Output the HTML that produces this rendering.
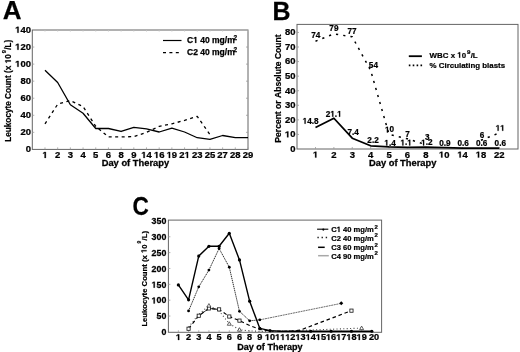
<!DOCTYPE html>
<html><head><meta charset="utf-8"><style>
html,body{margin:0;padding:0;background:#fff;width:520px;height:352px;overflow:hidden}
#w{will-change:transform;width:520px;height:352px}
svg{display:block;font-family:"Liberation Sans", sans-serif;font-weight:bold;font-kerning:none}
.h{fill-opacity:0;stroke-opacity:0}
</style></head><body><div id="w">
<svg width="520" height="352" viewBox="0 0 520 352">
<defs><path id="one" d="M478,0L478,1170L140,959L140,1180L493,1409L759,1409L759,0Z" fill="#000"/></defs>
<rect width="520" height="352" fill="#fff"/>
<rect x="32.3" y="30.0" width="215.7" height="119.4" fill="none" stroke="#656565" stroke-width="1"/>
<g transform="translate(2.80,19.00)" stroke="#000" stroke-width="0.25"><text x="0.00" y="0.00" font-size="26" xml:space="preserve">A</text></g>
<g transform="translate(30.90,152.10) scale(1.1,1)" stroke="#000" stroke-width="0.25"><text x="-4.78" y="0.00" font-size="8.6" xml:space="preserve">0</text></g>
<g transform="translate(30.90,135.04) scale(1.1,1)" stroke="#000" stroke-width="0.25"><text x="-9.57 -4.78" y="0.00" font-size="8.6" xml:space="preserve">20</text></g>
<g transform="translate(30.90,117.99) scale(1.1,1)" stroke="#000" stroke-width="0.25"><text x="-9.57 -4.78" y="0.00" font-size="8.6" xml:space="preserve">40</text></g>
<g transform="translate(30.90,100.93) scale(1.1,1)" stroke="#000" stroke-width="0.25"><text x="-9.57 -4.78" y="0.00" font-size="8.6" xml:space="preserve">60</text></g>
<g transform="translate(30.90,83.87) scale(1.1,1)" stroke="#000" stroke-width="0.25"><text x="-9.57 -4.78" y="0.00" font-size="8.6" xml:space="preserve">80</text></g>
<g transform="translate(30.90,66.81) scale(1.1,1)" stroke="#000" stroke-width="0.25"><use href="#one" transform="translate(-14.35,0.00) scale(0.00420,-0.00420)" stroke-width="59.5"/><text x="-14.35 -9.57 -4.78" y="0.00" font-size="8.6" xml:space="preserve"><tspan class="h">1</tspan>00</text></g>
<g transform="translate(30.90,49.76) scale(1.1,1)" stroke="#000" stroke-width="0.25"><use href="#one" transform="translate(-14.35,0.00) scale(0.00420,-0.00420)" stroke-width="59.5"/><text x="-14.35 -9.57 -4.78" y="0.00" font-size="8.6" xml:space="preserve"><tspan class="h">1</tspan>20</text></g>
<g transform="translate(30.90,32.70) scale(1.1,1)" stroke="#000" stroke-width="0.25"><use href="#one" transform="translate(-14.35,0.00) scale(0.00420,-0.00420)" stroke-width="59.5"/><text x="-14.35 -9.57 -4.78" y="0.00" font-size="8.6" xml:space="preserve"><tspan class="h">1</tspan>40</text></g>
<g transform="translate(44.99,157.90) scale(1.1,1)" stroke="#000" stroke-width="0.25"><use href="#one" transform="translate(-2.39,0.00) scale(0.00420,-0.00420)" stroke-width="59.5"/><text x="-2.39" y="0.00" font-size="8.6" xml:space="preserve"><tspan class="h">1</tspan></text></g>
<line x1="44.99" y1="149.40" x2="44.99" y2="147.40" stroke="#9a9a9a" stroke-width="0.8"/>
<line x1="44.99" y1="30.00" x2="44.99" y2="31.60" stroke="#c4c4c4" stroke-width="0.8"/>
<g transform="translate(57.68,157.90) scale(1.1,1)" stroke="#000" stroke-width="0.25"><text x="-2.39" y="0.00" font-size="8.6" xml:space="preserve">2</text></g>
<line x1="57.68" y1="149.40" x2="57.68" y2="147.40" stroke="#9a9a9a" stroke-width="0.8"/>
<line x1="57.68" y1="30.00" x2="57.68" y2="31.60" stroke="#c4c4c4" stroke-width="0.8"/>
<g transform="translate(70.36,157.90) scale(1.1,1)" stroke="#000" stroke-width="0.25"><text x="-2.39" y="0.00" font-size="8.6" xml:space="preserve">3</text></g>
<line x1="70.36" y1="149.40" x2="70.36" y2="147.40" stroke="#9a9a9a" stroke-width="0.8"/>
<line x1="70.36" y1="30.00" x2="70.36" y2="31.60" stroke="#c4c4c4" stroke-width="0.8"/>
<g transform="translate(83.05,157.90) scale(1.1,1)" stroke="#000" stroke-width="0.25"><text x="-2.39" y="0.00" font-size="8.6" xml:space="preserve">4</text></g>
<line x1="83.05" y1="149.40" x2="83.05" y2="147.40" stroke="#9a9a9a" stroke-width="0.8"/>
<line x1="83.05" y1="30.00" x2="83.05" y2="31.60" stroke="#c4c4c4" stroke-width="0.8"/>
<g transform="translate(95.74,157.90) scale(1.1,1)" stroke="#000" stroke-width="0.25"><text x="-2.39" y="0.00" font-size="8.6" xml:space="preserve">5</text></g>
<line x1="95.74" y1="149.40" x2="95.74" y2="147.40" stroke="#9a9a9a" stroke-width="0.8"/>
<line x1="95.74" y1="30.00" x2="95.74" y2="31.60" stroke="#c4c4c4" stroke-width="0.8"/>
<g transform="translate(108.43,157.90) scale(1.1,1)" stroke="#000" stroke-width="0.25"><text x="-2.39" y="0.00" font-size="8.6" xml:space="preserve">6</text></g>
<line x1="108.43" y1="149.40" x2="108.43" y2="147.40" stroke="#9a9a9a" stroke-width="0.8"/>
<line x1="108.43" y1="30.00" x2="108.43" y2="31.60" stroke="#c4c4c4" stroke-width="0.8"/>
<g transform="translate(121.12,157.90) scale(1.1,1)" stroke="#000" stroke-width="0.25"><text x="-2.39" y="0.00" font-size="8.6" xml:space="preserve">8</text></g>
<line x1="121.12" y1="149.40" x2="121.12" y2="147.40" stroke="#9a9a9a" stroke-width="0.8"/>
<line x1="121.12" y1="30.00" x2="121.12" y2="31.60" stroke="#c4c4c4" stroke-width="0.8"/>
<g transform="translate(133.81,157.90) scale(1.1,1)" stroke="#000" stroke-width="0.25"><text x="-2.39" y="0.00" font-size="8.6" xml:space="preserve">9</text></g>
<line x1="133.81" y1="149.40" x2="133.81" y2="147.40" stroke="#9a9a9a" stroke-width="0.8"/>
<line x1="133.81" y1="30.00" x2="133.81" y2="31.60" stroke="#c4c4c4" stroke-width="0.8"/>
<g transform="translate(146.49,157.90) scale(1.1,1)" stroke="#000" stroke-width="0.25"><use href="#one" transform="translate(-4.78,0.00) scale(0.00420,-0.00420)" stroke-width="59.5"/><text x="-4.78 0.00" y="0.00" font-size="8.6" xml:space="preserve"><tspan class="h">1</tspan>4</text></g>
<line x1="146.49" y1="149.40" x2="146.49" y2="147.40" stroke="#9a9a9a" stroke-width="0.8"/>
<line x1="146.49" y1="30.00" x2="146.49" y2="31.60" stroke="#c4c4c4" stroke-width="0.8"/>
<g transform="translate(159.18,157.90) scale(1.1,1)" stroke="#000" stroke-width="0.25"><use href="#one" transform="translate(-4.78,0.00) scale(0.00420,-0.00420)" stroke-width="59.5"/><text x="-4.78 0.00" y="0.00" font-size="8.6" xml:space="preserve"><tspan class="h">1</tspan>6</text></g>
<line x1="159.18" y1="149.40" x2="159.18" y2="147.40" stroke="#9a9a9a" stroke-width="0.8"/>
<line x1="159.18" y1="30.00" x2="159.18" y2="31.60" stroke="#c4c4c4" stroke-width="0.8"/>
<g transform="translate(171.87,157.90) scale(1.1,1)" stroke="#000" stroke-width="0.25"><use href="#one" transform="translate(-4.78,0.00) scale(0.00420,-0.00420)" stroke-width="59.5"/><text x="-4.78 0.00" y="0.00" font-size="8.6" xml:space="preserve"><tspan class="h">1</tspan>9</text></g>
<line x1="171.87" y1="149.40" x2="171.87" y2="147.40" stroke="#9a9a9a" stroke-width="0.8"/>
<line x1="171.87" y1="30.00" x2="171.87" y2="31.60" stroke="#c4c4c4" stroke-width="0.8"/>
<g transform="translate(184.56,157.90) scale(1.1,1)" stroke="#000" stroke-width="0.25"><use href="#one" transform="translate(0.00,0.00) scale(0.00420,-0.00420)" stroke-width="59.5"/><text x="-4.78 0.00" y="0.00" font-size="8.6" xml:space="preserve">2<tspan class="h">1</tspan></text></g>
<line x1="184.56" y1="149.40" x2="184.56" y2="147.40" stroke="#9a9a9a" stroke-width="0.8"/>
<line x1="184.56" y1="30.00" x2="184.56" y2="31.60" stroke="#c4c4c4" stroke-width="0.8"/>
<g transform="translate(197.25,157.90) scale(1.1,1)" stroke="#000" stroke-width="0.25"><text x="-4.78 0.00" y="0.00" font-size="8.6" xml:space="preserve">23</text></g>
<line x1="197.25" y1="149.40" x2="197.25" y2="147.40" stroke="#9a9a9a" stroke-width="0.8"/>
<line x1="197.25" y1="30.00" x2="197.25" y2="31.60" stroke="#c4c4c4" stroke-width="0.8"/>
<g transform="translate(209.94,157.90) scale(1.1,1)" stroke="#000" stroke-width="0.25"><text x="-4.78 0.00" y="0.00" font-size="8.6" xml:space="preserve">25</text></g>
<line x1="209.94" y1="149.40" x2="209.94" y2="147.40" stroke="#9a9a9a" stroke-width="0.8"/>
<line x1="209.94" y1="30.00" x2="209.94" y2="31.60" stroke="#c4c4c4" stroke-width="0.8"/>
<g transform="translate(222.62,157.90) scale(1.1,1)" stroke="#000" stroke-width="0.25"><text x="-4.78 0.00" y="0.00" font-size="8.6" xml:space="preserve">27</text></g>
<line x1="222.62" y1="149.40" x2="222.62" y2="147.40" stroke="#9a9a9a" stroke-width="0.8"/>
<line x1="222.62" y1="30.00" x2="222.62" y2="31.60" stroke="#c4c4c4" stroke-width="0.8"/>
<g transform="translate(235.31,157.90) scale(1.1,1)" stroke="#000" stroke-width="0.25"><text x="-4.78 0.00" y="0.00" font-size="8.6" xml:space="preserve">28</text></g>
<line x1="235.31" y1="149.40" x2="235.31" y2="147.40" stroke="#9a9a9a" stroke-width="0.8"/>
<line x1="235.31" y1="30.00" x2="235.31" y2="31.60" stroke="#c4c4c4" stroke-width="0.8"/>
<g transform="translate(248.00,157.90) scale(1.1,1)" stroke="#000" stroke-width="0.25"><text x="-4.78 0.00" y="0.00" font-size="8.6" xml:space="preserve">29</text></g>
<line x1="248.00" y1="149.40" x2="248.00" y2="147.40" stroke="#9a9a9a" stroke-width="0.8"/>
<line x1="248.00" y1="30.00" x2="248.00" y2="31.60" stroke="#c4c4c4" stroke-width="0.8"/>
<line x1="32.30" y1="132.34" x2="34.30" y2="132.34" stroke="#9a9a9a" stroke-width="0.8"/>
<line x1="248.00" y1="132.34" x2="246.00" y2="132.34" stroke="#9a9a9a" stroke-width="0.8"/>
<line x1="32.30" y1="115.29" x2="34.30" y2="115.29" stroke="#9a9a9a" stroke-width="0.8"/>
<line x1="248.00" y1="115.29" x2="246.00" y2="115.29" stroke="#9a9a9a" stroke-width="0.8"/>
<line x1="32.30" y1="98.23" x2="34.30" y2="98.23" stroke="#9a9a9a" stroke-width="0.8"/>
<line x1="248.00" y1="98.23" x2="246.00" y2="98.23" stroke="#9a9a9a" stroke-width="0.8"/>
<line x1="32.30" y1="81.17" x2="34.30" y2="81.17" stroke="#9a9a9a" stroke-width="0.8"/>
<line x1="248.00" y1="81.17" x2="246.00" y2="81.17" stroke="#9a9a9a" stroke-width="0.8"/>
<line x1="32.30" y1="64.11" x2="34.30" y2="64.11" stroke="#9a9a9a" stroke-width="0.8"/>
<line x1="248.00" y1="64.11" x2="246.00" y2="64.11" stroke="#9a9a9a" stroke-width="0.8"/>
<line x1="32.30" y1="47.06" x2="34.30" y2="47.06" stroke="#9a9a9a" stroke-width="0.8"/>
<line x1="248.00" y1="47.06" x2="246.00" y2="47.06" stroke="#9a9a9a" stroke-width="0.8"/>
<g transform="translate(135.40,166.40) scale(1.14,1)" stroke="#000" stroke-width="0.25"><text x="-29.62 -23.70 -19.14 -14.58 -12.30 -7.29 -4.56 -2.28 2.73 7.74 12.30 15.49 20.05 25.06" y="0.00" font-size="8.2" xml:space="preserve">Day of Therapy</text></g>
<g transform="translate(10.90,90.80) rotate(-90)" stroke="#000" stroke-width="0.2"><use href="#one" transform="translate(27.40,0.00) scale(0.00400,-0.00400)" stroke-width="50.0"/><text x="-50.96 -45.96 -41.40 -36.39 -31.83 -26.82 -22.26 -17.70 -14.97 -10.40 -8.13 -2.20 2.80 7.81 12.82 15.55 17.83 20.56 25.12 27.40 31.96" y="0.00" font-size="8.2" xml:space="preserve">Leukocyte Count (x <tspan class="h">1</tspan>0</text><text x="37.52" y="-5.00" font-size="5.8" xml:space="preserve">9</text><text x="40.95 43.22 48.23" y="0.00" font-size="8.2" xml:space="preserve">/L)</text></g>
<path d="M44.99,70.25 L57.68,82.54 L70.36,104.80 L83.05,113.24 L95.74,128.50 L108.43,128.50 L121.12,131.49 L133.81,127.40 L146.49,128.93 L159.18,132.00 L171.87,128.08 L184.56,132.00 L197.25,137.72 L209.94,139.42 L222.62,135.50 L235.31,137.72 L248.00,137.72" fill="none" stroke="#000" stroke-width="1.3" stroke-linejoin="round" stroke-linecap="butt" />
<path d="M44.99,123.90 L57.68,104.20 L70.36,100.53 L83.05,106.50 L95.74,126.37 L108.43,136.95 L121.12,136.95 L133.81,136.61 L146.49,132.34 L159.18,126.37 L171.87,123.81 L184.56,120.40 L197.25,116.39 L209.94,134.56" fill="none" stroke="#000" stroke-width="1.3" stroke-linejoin="round" stroke-linecap="butt" stroke-dasharray="3,3.5" />
<path d="M163.00,40.50 L181.50,40.50" fill="none" stroke="#000" stroke-width="1.2" stroke-linejoin="round" stroke-linecap="butt" />
<path d="M163.00,52.60 L181.50,52.60" fill="none" stroke="#000" stroke-width="1.2" stroke-linejoin="round" stroke-linecap="butt" stroke-dasharray="3,3.4" />
<g transform="translate(187.00,42.90)" stroke="#000" stroke-width="0.25"><use href="#one" transform="translate(6.14,0.00) scale(0.00415,-0.00415)" stroke-width="60.2"/><text x="0.00 6.14 10.87 13.23 17.95 22.68 25.04 32.60 37.79 40.16" y="0.00" font-size="8.5" xml:space="preserve">C<tspan class="h">1</tspan> 40 mg/m</text><text x="46.41" y="-3.30" font-size="6.5" xml:space="preserve">2</text></g>
<g transform="translate(187.00,54.90)" stroke="#000" stroke-width="0.25"><text x="0.00 6.14 10.87 13.23 17.95 22.68 25.04 32.60 37.79 40.16" y="0.00" font-size="8.5" xml:space="preserve">C2 40 mg/m</text><text x="46.41" y="-3.30" font-size="6.5" xml:space="preserve">2</text></g>
<rect x="297.0" y="24.4" width="221.0" height="124.6" fill="none" stroke="#656565" stroke-width="1"/>
<g transform="translate(272.40,19.60) scale(0.96,1)" stroke="#000" stroke-width="0.25"><text x="0.00" y="0.00" font-size="26" xml:space="preserve">B</text></g>
<g transform="translate(295.40,151.90) scale(1.1,1)" stroke="#000" stroke-width="0.25"><text x="-4.78" y="0.00" font-size="8.6" xml:space="preserve">0</text></g>
<g transform="translate(295.40,137.33) scale(1.1,1)" stroke="#000" stroke-width="0.25"><use href="#one" transform="translate(-9.57,0.00) scale(0.00420,-0.00420)" stroke-width="59.5"/><text x="-9.57 -4.78" y="0.00" font-size="8.6" xml:space="preserve"><tspan class="h">1</tspan>0</text></g>
<line x1="297.00" y1="134.43" x2="299.00" y2="134.43" stroke="#9a9a9a" stroke-width="0.8"/>
<g transform="translate(295.40,122.76) scale(1.1,1)" stroke="#000" stroke-width="0.25"><text x="-9.57 -4.78" y="0.00" font-size="8.6" xml:space="preserve">20</text></g>
<line x1="297.00" y1="119.86" x2="299.00" y2="119.86" stroke="#9a9a9a" stroke-width="0.8"/>
<g transform="translate(295.40,108.19) scale(1.1,1)" stroke="#000" stroke-width="0.25"><text x="-9.57 -4.78" y="0.00" font-size="8.6" xml:space="preserve">30</text></g>
<line x1="297.00" y1="105.29" x2="299.00" y2="105.29" stroke="#9a9a9a" stroke-width="0.8"/>
<g transform="translate(295.40,93.62) scale(1.1,1)" stroke="#000" stroke-width="0.25"><text x="-9.57 -4.78" y="0.00" font-size="8.6" xml:space="preserve">40</text></g>
<line x1="297.00" y1="90.72" x2="299.00" y2="90.72" stroke="#9a9a9a" stroke-width="0.8"/>
<g transform="translate(295.40,79.05) scale(1.1,1)" stroke="#000" stroke-width="0.25"><text x="-9.57 -4.78" y="0.00" font-size="8.6" xml:space="preserve">50</text></g>
<line x1="297.00" y1="76.15" x2="299.00" y2="76.15" stroke="#9a9a9a" stroke-width="0.8"/>
<g transform="translate(295.40,64.48) scale(1.1,1)" stroke="#000" stroke-width="0.25"><text x="-9.57 -4.78" y="0.00" font-size="8.6" xml:space="preserve">60</text></g>
<line x1="297.00" y1="61.58" x2="299.00" y2="61.58" stroke="#9a9a9a" stroke-width="0.8"/>
<g transform="translate(295.40,49.91) scale(1.1,1)" stroke="#000" stroke-width="0.25"><text x="-9.57 -4.78" y="0.00" font-size="8.6" xml:space="preserve">70</text></g>
<line x1="297.00" y1="47.01" x2="299.00" y2="47.01" stroke="#9a9a9a" stroke-width="0.8"/>
<g transform="translate(295.40,35.34) scale(1.1,1)" stroke="#000" stroke-width="0.25"><text x="-9.57 -4.78" y="0.00" font-size="8.6" xml:space="preserve">80</text></g>
<line x1="297.00" y1="32.44" x2="299.00" y2="32.44" stroke="#9a9a9a" stroke-width="0.8"/>
<g transform="translate(315.50,157.60) scale(1.1,1)" stroke="#000" stroke-width="0.25"><use href="#one" transform="translate(-2.39,0.00) scale(0.00420,-0.00420)" stroke-width="59.5"/><text x="-2.39" y="0.00" font-size="8.6" xml:space="preserve"><tspan class="h">1</tspan></text></g>
<line x1="315.50" y1="149.00" x2="315.50" y2="147.00" stroke="#9a9a9a" stroke-width="0.8"/>
<g transform="translate(333.88,157.60) scale(1.1,1)" stroke="#000" stroke-width="0.25"><text x="-2.39" y="0.00" font-size="8.6" xml:space="preserve">2</text></g>
<line x1="333.88" y1="149.00" x2="333.88" y2="147.00" stroke="#9a9a9a" stroke-width="0.8"/>
<g transform="translate(352.26,157.60) scale(1.1,1)" stroke="#000" stroke-width="0.25"><text x="-2.39" y="0.00" font-size="8.6" xml:space="preserve">3</text></g>
<line x1="352.26" y1="149.00" x2="352.26" y2="147.00" stroke="#9a9a9a" stroke-width="0.8"/>
<g transform="translate(370.64,157.60) scale(1.1,1)" stroke="#000" stroke-width="0.25"><text x="-2.39" y="0.00" font-size="8.6" xml:space="preserve">4</text></g>
<line x1="370.64" y1="149.00" x2="370.64" y2="147.00" stroke="#9a9a9a" stroke-width="0.8"/>
<g transform="translate(389.02,157.60) scale(1.1,1)" stroke="#000" stroke-width="0.25"><text x="-2.39" y="0.00" font-size="8.6" xml:space="preserve">5</text></g>
<line x1="389.02" y1="149.00" x2="389.02" y2="147.00" stroke="#9a9a9a" stroke-width="0.8"/>
<g transform="translate(407.40,157.60) scale(1.1,1)" stroke="#000" stroke-width="0.25"><text x="-2.39" y="0.00" font-size="8.6" xml:space="preserve">6</text></g>
<line x1="407.40" y1="149.00" x2="407.40" y2="147.00" stroke="#9a9a9a" stroke-width="0.8"/>
<g transform="translate(425.78,157.60) scale(1.1,1)" stroke="#000" stroke-width="0.25"><text x="-2.39" y="0.00" font-size="8.6" xml:space="preserve">8</text></g>
<line x1="425.78" y1="149.00" x2="425.78" y2="147.00" stroke="#9a9a9a" stroke-width="0.8"/>
<g transform="translate(444.16,157.60) scale(1.1,1)" stroke="#000" stroke-width="0.25"><use href="#one" transform="translate(-4.78,0.00) scale(0.00420,-0.00420)" stroke-width="59.5"/><text x="-4.78 0.00" y="0.00" font-size="8.6" xml:space="preserve"><tspan class="h">1</tspan>0</text></g>
<line x1="444.16" y1="149.00" x2="444.16" y2="147.00" stroke="#9a9a9a" stroke-width="0.8"/>
<g transform="translate(462.54,157.60) scale(1.1,1)" stroke="#000" stroke-width="0.25"><use href="#one" transform="translate(-4.78,0.00) scale(0.00420,-0.00420)" stroke-width="59.5"/><text x="-4.78 0.00" y="0.00" font-size="8.6" xml:space="preserve"><tspan class="h">1</tspan>4</text></g>
<line x1="462.54" y1="149.00" x2="462.54" y2="147.00" stroke="#9a9a9a" stroke-width="0.8"/>
<g transform="translate(480.92,157.60) scale(1.1,1)" stroke="#000" stroke-width="0.25"><use href="#one" transform="translate(-4.78,0.00) scale(0.00420,-0.00420)" stroke-width="59.5"/><text x="-4.78 0.00" y="0.00" font-size="8.6" xml:space="preserve"><tspan class="h">1</tspan>8</text></g>
<line x1="480.92" y1="149.00" x2="480.92" y2="147.00" stroke="#9a9a9a" stroke-width="0.8"/>
<g transform="translate(499.30,157.60) scale(1.1,1)" stroke="#000" stroke-width="0.25"><text x="-4.78 0.00" y="0.00" font-size="8.6" xml:space="preserve">22</text></g>
<line x1="499.30" y1="149.00" x2="499.30" y2="147.00" stroke="#9a9a9a" stroke-width="0.8"/>
<g transform="translate(402.70,166.40) scale(1.14,1)" stroke="#000" stroke-width="0.25"><text x="-29.62 -23.70 -19.14 -14.58 -12.30 -7.29 -4.56 -2.28 2.73 7.74 12.30 15.49 20.05 25.06" y="0.00" font-size="8.2" xml:space="preserve">Day of Therapy</text></g>
<g transform="translate(280.60,88.50) rotate(-90)" stroke="#000" stroke-width="0.2"><text x="-54.15 -48.45 -43.70 -40.37 -35.61 -30.86 -25.64 -22.79 -20.41 -15.19 -11.86 -9.49 -3.31 1.91 6.67 11.89 14.26 19.49 22.33 27.09 29.46 35.64 40.86 46.08 51.31" y="0.00" font-size="8.55" xml:space="preserve">Percent or Absolute Count</text></g>
<path d="M315.50,127.44 L333.88,118.26 L352.26,138.22 L370.64,145.79 L389.02,146.96 L407.40,147.40 L425.78,147.25 L444.16,147.69 L462.54,148.13 L480.92,148.13 L499.30,148.13" fill="none" stroke="#000" stroke-width="1.8" stroke-linejoin="round" stroke-linecap="butt" />
<path d="M315.50,41.18 L333.88,33.90 L352.26,36.81 L370.64,70.32 L389.02,134.43 L407.40,138.80 L425.78,144.63" fill="none" stroke="#000" stroke-width="1.5" stroke-linejoin="round" stroke-linecap="butt" stroke-dasharray="2.2,5.1" />
<path d="M480.92,140.26 L499.30,132.97" fill="none" stroke="#000" stroke-width="1.5" stroke-linejoin="round" stroke-linecap="butt" stroke-dasharray="2.2,5.1" />
<g transform="translate(310.60,123.70)" stroke="#000" stroke-width="0.22"><use href="#one" transform="translate(-7.98,0.00) scale(0.00400,-0.00400)" stroke-width="54.9"/><text x="-7.98 -3.42 1.14 3.42" y="0.00" font-size="8.2" xml:space="preserve"><tspan class="h">1</tspan>4.8</text></g>
<g transform="translate(333.70,116.70)" stroke="#000" stroke-width="0.22"><use href="#one" transform="translate(-3.42,0.00) scale(0.00400,-0.00400)" stroke-width="54.9"/><use href="#one" transform="translate(3.42,0.00) scale(0.00400,-0.00400)" stroke-width="54.9"/><text x="-7.98 -3.42 1.14 3.42" y="0.00" font-size="8.2" xml:space="preserve">2<tspan class="h">1</tspan>.<tspan class="h">1</tspan></text></g>
<g transform="translate(353.20,135.20)" stroke="#000" stroke-width="0.22"><text x="-5.70 -1.14 1.14" y="0.00" font-size="8.2" xml:space="preserve">7.4</text></g>
<g transform="translate(373.00,143.40)" stroke="#000" stroke-width="0.22"><text x="-5.70 -1.14 1.14" y="0.00" font-size="8.2" xml:space="preserve">2.2</text></g>
<g transform="translate(390.00,145.60)" stroke="#000" stroke-width="0.22"><use href="#one" transform="translate(-5.70,0.00) scale(0.00400,-0.00400)" stroke-width="54.9"/><text x="-5.70 -1.14 1.14" y="0.00" font-size="8.2" xml:space="preserve"><tspan class="h">1</tspan>.4</text></g>
<g transform="translate(406.10,145.40)" stroke="#000" stroke-width="0.22"><use href="#one" transform="translate(-5.70,0.00) scale(0.00400,-0.00400)" stroke-width="54.9"/><use href="#one" transform="translate(1.14,0.00) scale(0.00400,-0.00400)" stroke-width="54.9"/><text x="-5.70 -1.14 1.14" y="0.00" font-size="8.2" xml:space="preserve"><tspan class="h">1</tspan>.<tspan class="h">1</tspan></text></g>
<g transform="translate(426.80,145.40)" stroke="#000" stroke-width="0.22"><use href="#one" transform="translate(-5.70,0.00) scale(0.00400,-0.00400)" stroke-width="54.9"/><text x="-5.70 -1.14 1.14" y="0.00" font-size="8.2" xml:space="preserve"><tspan class="h">1</tspan>.2</text></g>
<g transform="translate(444.90,146.00)" stroke="#000" stroke-width="0.22"><text x="-5.70 -1.14 1.14" y="0.00" font-size="8.2" xml:space="preserve">0.9</text></g>
<g transform="translate(463.10,146.00)" stroke="#000" stroke-width="0.22"><text x="-5.70 -1.14 1.14" y="0.00" font-size="8.2" xml:space="preserve">0.6</text></g>
<g transform="translate(481.70,146.00)" stroke="#000" stroke-width="0.22"><text x="-5.70 -1.14 1.14" y="0.00" font-size="8.2" xml:space="preserve">0.6</text></g>
<g transform="translate(500.30,146.00)" stroke="#000" stroke-width="0.22"><text x="-5.70 -1.14 1.14" y="0.00" font-size="8.2" xml:space="preserve">0.6</text></g>
<g transform="translate(315.70,37.80)" stroke="#000" stroke-width="0.22"><text x="-4.56 0.00" y="0.00" font-size="8.2" xml:space="preserve">74</text></g>
<g transform="translate(333.90,31.40)" stroke="#000" stroke-width="0.22"><text x="-4.56 0.00" y="0.00" font-size="8.2" xml:space="preserve">79</text></g>
<g transform="translate(352.00,34.10)" stroke="#000" stroke-width="0.22"><text x="-4.56 0.00" y="0.00" font-size="8.2" xml:space="preserve">77</text></g>
<g transform="translate(373.40,67.50)" stroke="#000" stroke-width="0.22"><text x="-4.56 0.00" y="0.00" font-size="8.2" xml:space="preserve">54</text></g>
<g transform="translate(389.50,132.40)" stroke="#000" stroke-width="0.22"><use href="#one" transform="translate(-4.56,0.00) scale(0.00400,-0.00400)" stroke-width="54.9"/><text x="-4.56 0.00" y="0.00" font-size="8.2" xml:space="preserve"><tspan class="h">1</tspan>0</text></g>
<g transform="translate(407.50,136.50)" stroke="#000" stroke-width="0.22"><text x="-2.28" y="0.00" font-size="8.2" xml:space="preserve">7</text></g>
<g transform="translate(427.30,140.40)" stroke="#000" stroke-width="0.22"><text x="-2.28" y="0.00" font-size="8.2" xml:space="preserve">3</text></g>
<g transform="translate(482.00,137.90)" stroke="#000" stroke-width="0.22"><text x="-2.28" y="0.00" font-size="8.2" xml:space="preserve">6</text></g>
<g transform="translate(500.20,130.80)" stroke="#000" stroke-width="0.22"><use href="#one" transform="translate(-4.56,0.00) scale(0.00400,-0.00400)" stroke-width="54.9"/><use href="#one" transform="translate(0.00,0.00) scale(0.00400,-0.00400)" stroke-width="54.9"/><text x="-4.56 0.00" y="0.00" font-size="8.2" xml:space="preserve"><tspan class="h">1</tspan><tspan class="h">1</tspan></text></g>
<path d="M408.80,56.20 L421.90,56.20" fill="none" stroke="#000" stroke-width="1.8" stroke-linejoin="round" stroke-linecap="butt" />
<path d="M408.80,65.40 L422.40,65.40" fill="none" stroke="#000" stroke-width="1.6" stroke-linejoin="round" stroke-linecap="butt" stroke-dasharray="1.6,2.3" />
<g transform="translate(429.60,57.70)" stroke="#000" stroke-width="0.2"><use href="#one" transform="translate(27.65,0.00) scale(0.00386,-0.00386)" stroke-width="51.8"/><text x="0.00 7.46 13.16 18.87 21.06 25.46 27.65 32.04" y="0.00" font-size="7.9" xml:space="preserve">WBC x <tspan class="h">1</tspan>0</text><text x="37.34" y="-3.30" font-size="6.2" xml:space="preserve">9</text><text x="41.09 43.28" y="0.00" font-size="7.9" xml:space="preserve">/L</text></g>
<g transform="translate(429.60,67.60)" stroke="#000" stroke-width="0.2"><text x="0.00 7.02 9.22 14.92 17.12 20.19 24.59 29.41 31.61 36.00 38.63 40.83 45.65 50.48 52.67 57.50 59.69 64.09 68.48 71.11" y="0.00" font-size="7.9" xml:space="preserve">% Circulating blasts</text></g>
<rect x="168.4" y="220.1" width="213.20000000000002" height="112.20000000000002" fill="none" stroke="#656565" stroke-width="1"/>
<g transform="translate(132.60,214.60) scale(0.87,1)" stroke="#000" stroke-width="0.25"><text x="0.00" y="0.00" font-size="26" xml:space="preserve">C</text></g>
<g transform="translate(166.30,335.20) scale(1.03,1)" stroke="#000" stroke-width="0.25"><text x="-4.78" y="0.00" font-size="8.6" xml:space="preserve">0</text></g>
<g transform="translate(166.30,319.34) scale(1.03,1)" stroke="#000" stroke-width="0.25"><text x="-9.57 -4.78" y="0.00" font-size="8.6" xml:space="preserve">50</text></g>
<line x1="168.40" y1="316.04" x2="170.40" y2="316.04" stroke="#9a9a9a" stroke-width="0.8"/>
<g transform="translate(166.30,303.49) scale(1.03,1)" stroke="#000" stroke-width="0.25"><use href="#one" transform="translate(-14.35,0.00) scale(0.00420,-0.00420)" stroke-width="59.5"/><text x="-14.35 -9.57 -4.78" y="0.00" font-size="8.6" xml:space="preserve"><tspan class="h">1</tspan>00</text></g>
<line x1="168.40" y1="300.19" x2="170.40" y2="300.19" stroke="#9a9a9a" stroke-width="0.8"/>
<g transform="translate(166.30,287.63) scale(1.03,1)" stroke="#000" stroke-width="0.25"><use href="#one" transform="translate(-14.35,0.00) scale(0.00420,-0.00420)" stroke-width="59.5"/><text x="-14.35 -9.57 -4.78" y="0.00" font-size="8.6" xml:space="preserve"><tspan class="h">1</tspan>50</text></g>
<line x1="168.40" y1="284.33" x2="170.40" y2="284.33" stroke="#9a9a9a" stroke-width="0.8"/>
<g transform="translate(166.30,271.78) scale(1.03,1)" stroke="#000" stroke-width="0.25"><text x="-14.35 -9.57 -4.78" y="0.00" font-size="8.6" xml:space="preserve">200</text></g>
<line x1="168.40" y1="268.48" x2="170.40" y2="268.48" stroke="#9a9a9a" stroke-width="0.8"/>
<g transform="translate(166.30,255.93) scale(1.03,1)" stroke="#000" stroke-width="0.25"><text x="-14.35 -9.57 -4.78" y="0.00" font-size="8.6" xml:space="preserve">250</text></g>
<line x1="168.40" y1="252.62" x2="170.40" y2="252.62" stroke="#9a9a9a" stroke-width="0.8"/>
<g transform="translate(166.30,240.07) scale(1.03,1)" stroke="#000" stroke-width="0.25"><text x="-14.35 -9.57 -4.78" y="0.00" font-size="8.6" xml:space="preserve">300</text></g>
<line x1="168.40" y1="236.77" x2="170.40" y2="236.77" stroke="#9a9a9a" stroke-width="0.8"/>
<g transform="translate(166.30,224.21) scale(1.03,1)" stroke="#000" stroke-width="0.25"><text x="-14.35 -9.57 -4.78" y="0.00" font-size="8.6" xml:space="preserve">350</text></g>
<g transform="translate(178.38,340.00) scale(1.12,1)" stroke="#000" stroke-width="0.25"><use href="#one" transform="translate(-2.28,0.00) scale(0.00400,-0.00400)" stroke-width="62.4"/><text x="-2.28" y="0.00" font-size="8.2" xml:space="preserve"><tspan class="h">1</tspan></text></g>
<line x1="178.38" y1="332.30" x2="178.38" y2="330.30" stroke="#9a9a9a" stroke-width="0.8"/>
<g transform="translate(188.56,340.00) scale(1.12,1)" stroke="#000" stroke-width="0.25"><text x="-2.28" y="0.00" font-size="8.2" xml:space="preserve">2</text></g>
<line x1="188.56" y1="332.30" x2="188.56" y2="330.30" stroke="#9a9a9a" stroke-width="0.8"/>
<g transform="translate(198.74,340.00) scale(1.12,1)" stroke="#000" stroke-width="0.25"><text x="-2.28" y="0.00" font-size="8.2" xml:space="preserve">3</text></g>
<line x1="198.74" y1="332.30" x2="198.74" y2="330.30" stroke="#9a9a9a" stroke-width="0.8"/>
<g transform="translate(208.92,340.00) scale(1.12,1)" stroke="#000" stroke-width="0.25"><text x="-2.28" y="0.00" font-size="8.2" xml:space="preserve">4</text></g>
<line x1="208.92" y1="332.30" x2="208.92" y2="330.30" stroke="#9a9a9a" stroke-width="0.8"/>
<g transform="translate(219.10,340.00) scale(1.12,1)" stroke="#000" stroke-width="0.25"><text x="-2.28" y="0.00" font-size="8.2" xml:space="preserve">5</text></g>
<line x1="219.10" y1="332.30" x2="219.10" y2="330.30" stroke="#9a9a9a" stroke-width="0.8"/>
<g transform="translate(229.29,340.00) scale(1.12,1)" stroke="#000" stroke-width="0.25"><text x="-2.28" y="0.00" font-size="8.2" xml:space="preserve">6</text></g>
<line x1="229.29" y1="332.30" x2="229.29" y2="330.30" stroke="#9a9a9a" stroke-width="0.8"/>
<g transform="translate(239.47,340.00) scale(1.12,1)" stroke="#000" stroke-width="0.25"><text x="-2.28" y="0.00" font-size="8.2" xml:space="preserve">6</text></g>
<line x1="239.47" y1="332.30" x2="239.47" y2="330.30" stroke="#9a9a9a" stroke-width="0.8"/>
<g transform="translate(249.65,340.00) scale(1.12,1)" stroke="#000" stroke-width="0.25"><text x="-2.28" y="0.00" font-size="8.2" xml:space="preserve">8</text></g>
<line x1="249.65" y1="332.30" x2="249.65" y2="330.30" stroke="#9a9a9a" stroke-width="0.8"/>
<g transform="translate(259.83,340.00) scale(1.12,1)" stroke="#000" stroke-width="0.25"><text x="-2.28" y="0.00" font-size="8.2" xml:space="preserve">9</text></g>
<line x1="259.83" y1="332.30" x2="259.83" y2="330.30" stroke="#9a9a9a" stroke-width="0.8"/>
<g transform="translate(270.01,340.00) scale(1.12,1)" stroke="#000" stroke-width="0.25"><use href="#one" transform="translate(-4.56,0.00) scale(0.00400,-0.00400)" stroke-width="62.4"/><text x="-4.56 0.00" y="0.00" font-size="8.2" xml:space="preserve"><tspan class="h">1</tspan>0</text></g>
<line x1="270.01" y1="332.30" x2="270.01" y2="330.30" stroke="#9a9a9a" stroke-width="0.8"/>
<g transform="translate(280.19,340.00) scale(1.12,1)" stroke="#000" stroke-width="0.25"><use href="#one" transform="translate(-4.56,0.00) scale(0.00400,-0.00400)" stroke-width="62.4"/><use href="#one" transform="translate(0.00,0.00) scale(0.00400,-0.00400)" stroke-width="62.4"/><text x="-4.56 0.00" y="0.00" font-size="8.2" xml:space="preserve"><tspan class="h">1</tspan><tspan class="h">1</tspan></text></g>
<line x1="280.19" y1="332.30" x2="280.19" y2="330.30" stroke="#9a9a9a" stroke-width="0.8"/>
<g transform="translate(290.37,340.00) scale(1.12,1)" stroke="#000" stroke-width="0.25"><use href="#one" transform="translate(-4.56,0.00) scale(0.00400,-0.00400)" stroke-width="62.4"/><text x="-4.56 0.00" y="0.00" font-size="8.2" xml:space="preserve"><tspan class="h">1</tspan>2</text></g>
<line x1="290.37" y1="332.30" x2="290.37" y2="330.30" stroke="#9a9a9a" stroke-width="0.8"/>
<g transform="translate(300.55,340.00) scale(1.12,1)" stroke="#000" stroke-width="0.25"><use href="#one" transform="translate(-4.56,0.00) scale(0.00400,-0.00400)" stroke-width="62.4"/><text x="-4.56 0.00" y="0.00" font-size="8.2" xml:space="preserve"><tspan class="h">1</tspan>3</text></g>
<line x1="300.55" y1="332.30" x2="300.55" y2="330.30" stroke="#9a9a9a" stroke-width="0.8"/>
<g transform="translate(310.73,340.00) scale(1.12,1)" stroke="#000" stroke-width="0.25"><use href="#one" transform="translate(-4.56,0.00) scale(0.00400,-0.00400)" stroke-width="62.4"/><text x="-4.56 0.00" y="0.00" font-size="8.2" xml:space="preserve"><tspan class="h">1</tspan>4</text></g>
<line x1="310.73" y1="332.30" x2="310.73" y2="330.30" stroke="#9a9a9a" stroke-width="0.8"/>
<g transform="translate(320.91,340.00) scale(1.12,1)" stroke="#000" stroke-width="0.25"><use href="#one" transform="translate(-4.56,0.00) scale(0.00400,-0.00400)" stroke-width="62.4"/><text x="-4.56 0.00" y="0.00" font-size="8.2" xml:space="preserve"><tspan class="h">1</tspan>5</text></g>
<line x1="320.91" y1="332.30" x2="320.91" y2="330.30" stroke="#9a9a9a" stroke-width="0.8"/>
<g transform="translate(331.10,340.00) scale(1.12,1)" stroke="#000" stroke-width="0.25"><use href="#one" transform="translate(-4.56,0.00) scale(0.00400,-0.00400)" stroke-width="62.4"/><text x="-4.56 0.00" y="0.00" font-size="8.2" xml:space="preserve"><tspan class="h">1</tspan>6</text></g>
<line x1="331.10" y1="332.30" x2="331.10" y2="330.30" stroke="#9a9a9a" stroke-width="0.8"/>
<g transform="translate(341.28,340.00) scale(1.12,1)" stroke="#000" stroke-width="0.25"><use href="#one" transform="translate(-4.56,0.00) scale(0.00400,-0.00400)" stroke-width="62.4"/><text x="-4.56 0.00" y="0.00" font-size="8.2" xml:space="preserve"><tspan class="h">1</tspan>7</text></g>
<line x1="341.28" y1="332.30" x2="341.28" y2="330.30" stroke="#9a9a9a" stroke-width="0.8"/>
<g transform="translate(351.46,340.00) scale(1.12,1)" stroke="#000" stroke-width="0.25"><use href="#one" transform="translate(-4.56,0.00) scale(0.00400,-0.00400)" stroke-width="62.4"/><text x="-4.56 0.00" y="0.00" font-size="8.2" xml:space="preserve"><tspan class="h">1</tspan>8</text></g>
<line x1="351.46" y1="332.30" x2="351.46" y2="330.30" stroke="#9a9a9a" stroke-width="0.8"/>
<g transform="translate(361.64,340.00) scale(1.12,1)" stroke="#000" stroke-width="0.25"><use href="#one" transform="translate(-4.56,0.00) scale(0.00400,-0.00400)" stroke-width="62.4"/><text x="-4.56 0.00" y="0.00" font-size="8.2" xml:space="preserve"><tspan class="h">1</tspan>9</text></g>
<line x1="361.64" y1="332.30" x2="361.64" y2="330.30" stroke="#9a9a9a" stroke-width="0.8"/>
<g transform="translate(374.12,340.00) scale(1.12,1)" stroke="#000" stroke-width="0.25"><text x="-4.56 0.00" y="0.00" font-size="8.2" xml:space="preserve">20</text></g>
<line x1="371.82" y1="332.30" x2="371.82" y2="330.30" stroke="#9a9a9a" stroke-width="0.8"/>
<g transform="translate(269.90,349.60) scale(1.105,1)" stroke="#000" stroke-width="0.25"><text x="-29.62 -23.70 -19.14 -14.58 -12.30 -7.29 -4.56 -2.28 2.73 7.74 12.30 15.49 20.05 25.06" y="0.00" font-size="8.2" xml:space="preserve">Day of Therapy</text></g>
<g transform="translate(146.60,278.80) rotate(-90)" stroke="#000" stroke-width="0.2"><use href="#one" transform="translate(25.77,0.00) scale(0.00376,-0.00376)" stroke-width="53.2"/><text x="-47.82 -43.12 -38.83 -34.13 -29.85 -25.14 -20.86 -16.58 -14.02 -9.73 -7.59 -2.03 2.67 7.37 12.08 14.64 16.78 19.35 23.63 25.77 30.05" y="0.00" font-size="7.7" xml:space="preserve">Leukocyte Count (x <tspan class="h">1</tspan>0</text><text x="35.33" y="-5.30" font-size="5.0" xml:space="preserve">9</text><text x="38.41 40.55 45.26" y="0.00" font-size="7.7" xml:space="preserve">/L)</text></g>
<path d="M188.56,327.14 L198.74,314.46 L208.92,305.58 L219.10,310.97 L229.29,323.75 L239.47,329.68 L249.65,330.95 L259.83,331.27 L270.01,331.58 L361.64,328.09" fill="none" stroke="#444" stroke-width="1.1" stroke-linejoin="round" stroke-linecap="butt" stroke-dasharray="1,2.4" />
<path d="M188.56,328.73 L198.74,315.73 L208.92,308.43 L219.10,309.39 L229.29,316.52 L239.47,320.61 L249.65,325.56 L259.83,329.36 L270.01,330.95 L280.19,331.27 L290.37,331.27 L300.55,330.00 L351.46,310.65" fill="none" stroke="#000" stroke-width="1.2" stroke-linejoin="round" stroke-linecap="butt" stroke-dasharray="3.6,2.8" />
<path d="M198.74,315.73 L208.92,308.43 L219.10,309.39" fill="none" stroke="#222" stroke-width="0.9" stroke-linejoin="round" stroke-linecap="butt" />
<path d="M188.56,310.97 L198.74,286.87 L208.92,270.07 L219.10,248.50 L229.29,267.21 L239.47,311.29 L249.65,320.80 L259.83,319.85" fill="none" stroke="#111" stroke-width="0.9" stroke-linejoin="round" stroke-linecap="butt" stroke-dasharray="1.3,0.7" />
<path d="M259.83,319.85 L341.28,303.36" fill="none" stroke="#555" stroke-width="0.85" stroke-linejoin="round" stroke-linecap="butt" stroke-dasharray="2,0.6" />
<path d="M178.38,284.97 L188.56,299.87 L198.74,256.11 L208.92,246.28 L219.10,246.28 L229.29,233.28 L239.47,259.92 L249.65,301.14 L259.83,328.41 L270.01,330.63 L280.19,331.27 L290.37,331.27 L300.55,331.27 L310.73,331.27 L320.91,331.27 L331.10,331.27 L341.28,331.27 L351.46,331.27 L361.64,331.27 L371.82,331.27" fill="none" stroke="#000" stroke-width="1.4" stroke-linejoin="round" stroke-linecap="butt" />
<circle cx="178.38" cy="284.97" r="1.6" fill="#000"/>
<circle cx="188.56" cy="299.87" r="1.6" fill="#000"/>
<circle cx="198.74" cy="256.11" r="1.6" fill="#000"/>
<circle cx="208.92" cy="246.28" r="1.6" fill="#000"/>
<circle cx="219.10" cy="246.28" r="1.6" fill="#000"/>
<circle cx="229.29" cy="233.28" r="1.6" fill="#000"/>
<circle cx="239.47" cy="259.92" r="1.6" fill="#000"/>
<circle cx="249.65" cy="301.14" r="1.6" fill="#000"/>
<circle cx="259.83" cy="328.41" r="1.6" fill="#000"/>
<circle cx="270.01" cy="330.63" r="1.6" fill="#000"/>
<circle cx="310.73" cy="331.27" r="1.6" fill="#000"/>
<circle cx="331.10" cy="331.27" r="1.6" fill="#000"/>
<circle cx="351.46" cy="331.27" r="1.6" fill="#000"/>
<circle cx="371.82" cy="331.27" r="1.6" fill="#000"/>
<circle cx="188.56" cy="310.97" r="1.4" fill="#000"/>
<circle cx="198.74" cy="286.87" r="1.4" fill="#000"/>
<circle cx="208.92" cy="270.07" r="1.4" fill="#000"/>
<circle cx="219.10" cy="248.50" r="1.4" fill="#000"/>
<circle cx="229.29" cy="267.21" r="1.4" fill="#000"/>
<circle cx="239.47" cy="311.29" r="1.4" fill="#000"/>
<circle cx="249.65" cy="320.80" r="1.4" fill="#000"/>
<circle cx="259.83" cy="319.85" r="1.4" fill="#000"/>
<path d="M339.28,303.36 L341.28,301.36 L343.28,303.36 L341.28,305.36Z" fill="#000"/>
<rect x="186.96" y="327.13" width="3.2" height="3.2" fill="#fff" stroke="#111" stroke-width="0.8"/>
<rect x="197.14" y="314.13" width="3.2" height="3.2" fill="#fff" stroke="#111" stroke-width="0.8"/>
<rect x="207.32" y="306.83" width="3.2" height="3.2" fill="#fff" stroke="#111" stroke-width="0.8"/>
<rect x="217.50" y="307.79" width="3.2" height="3.2" fill="#fff" stroke="#111" stroke-width="0.8"/>
<rect x="227.69" y="314.92" width="3.2" height="3.2" fill="#fff" stroke="#111" stroke-width="0.8"/>
<rect x="237.87" y="319.01" width="3.2" height="3.2" fill="#fff" stroke="#111" stroke-width="0.8"/>
<rect x="349.86" y="309.05" width="3.2" height="3.2" fill="#fff" stroke="#111" stroke-width="0.8"/>
<path d="M206.92,307.08 L208.92,303.58 L210.92,307.08Z" fill="#fff" stroke="#222" stroke-width="0.7"/>
<path d="M227.29,325.25 L229.29,321.75 L231.29,325.25Z" fill="#fff" stroke="#222" stroke-width="0.7"/>
<path d="M237.47,331.18 L239.47,327.68 L241.47,331.18Z" fill="#fff" stroke="#222" stroke-width="0.7"/>
<path d="M359.64,329.59 L361.64,326.09 L363.64,329.59Z" fill="#fff" stroke="#222" stroke-width="0.7"/>
<path d="M317.10,229.20 L328.30,229.20" fill="none" stroke="#000" stroke-width="1.1" stroke-linejoin="round" stroke-linecap="butt" />
<circle cx="323.3" cy="229.6" r="1.1" fill="#000"/>
<path d="M317.40,237.60 L328.00,237.60" fill="none" stroke="#222" stroke-width="1.5" stroke-linejoin="round" stroke-linecap="butt" stroke-dasharray="1.4,2.75" />
<path d="M318.10,247.30 L324.70,247.30" fill="none" stroke="#000" stroke-width="1.5" stroke-linejoin="round" stroke-linecap="butt" />
<path d="M318.10,255.70 L328.80,255.70" fill="none" stroke="#a8a8a8" stroke-width="1.5" stroke-linejoin="round" stroke-linecap="butt" />
<g transform="translate(331.20,232.00)" stroke="#000" stroke-width="0.2"><use href="#one" transform="translate(5.49,0.00) scale(0.00371,-0.00371)" stroke-width="53.9"/><text x="0.00 5.49 9.72 11.83 16.05 20.28 22.39 29.15 33.79 35.90" y="0.00" font-size="7.6" xml:space="preserve">C<tspan class="h">1</tspan> 40 mg/m</text><text x="43.26" y="-3.20" font-size="6" xml:space="preserve">2</text></g>
<g transform="translate(331.20,240.50)" stroke="#000" stroke-width="0.2"><text x="0.00 5.49 9.72 11.83 16.05 20.28 22.39 29.15 33.79 35.90" y="0.00" font-size="7.6" xml:space="preserve">C2 40 mg/m</text><text x="43.26" y="-3.20" font-size="6" xml:space="preserve">2</text></g>
<g transform="translate(331.20,249.80)" stroke="#000" stroke-width="0.2"><text x="0.00 5.49 9.72 11.83 16.05 20.28 22.39 29.15 33.79 35.90" y="0.00" font-size="7.6" xml:space="preserve">C3 60 mg/m</text><text x="43.26" y="-3.20" font-size="6" xml:space="preserve">2</text></g>
<g transform="translate(331.20,258.50)" stroke="#000" stroke-width="0.2"><text x="0.00 5.49 9.72 11.83 16.05 20.28 22.39 29.15 33.79 35.90" y="0.00" font-size="7.6" xml:space="preserve">C4 90 mg/m</text><text x="43.26" y="-3.20" font-size="6" xml:space="preserve">2</text></g>
</svg>
</div></body></html>
